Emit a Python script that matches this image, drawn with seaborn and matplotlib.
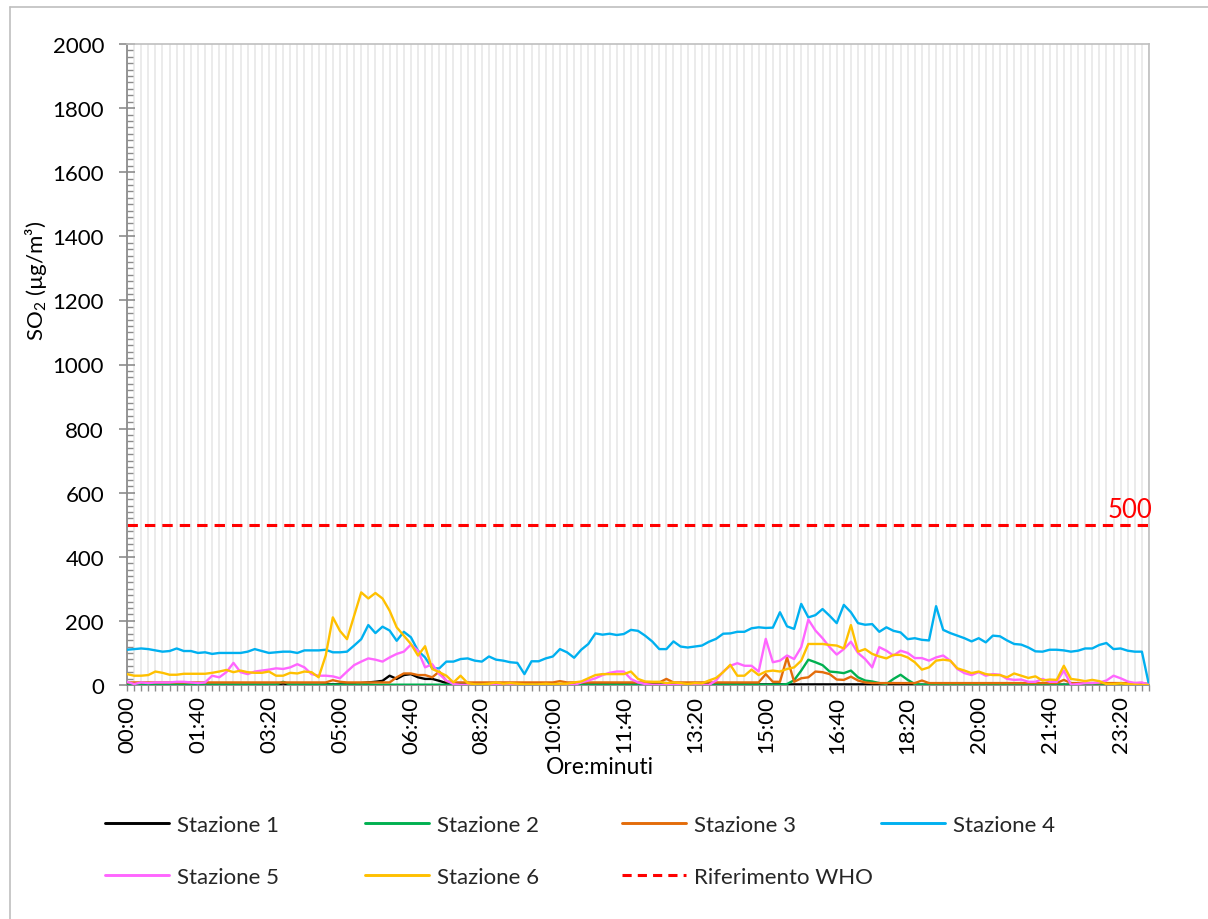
import numpy as np
import pandas as pd
import matplotlib
matplotlib.use("Agg")
import matplotlib.pyplot as plt
import seaborn as sns
from matplotlib.lines import Line2D
from matplotlib.ticker import MultipleLocator, FixedLocator

# ---------------- data ----------------
times = [f"{(m // 60):02d}:{(m % 60):02d}" for m in range(0, 24 * 60 + 1, 10)]  # 145 categories

stazione1 = [1] * 22 + [5] + [1] * 5 + [2, 2, 2, 2, 2, 6, 8, 10, 13, 29, 19, 31, 34, 24, 19, 19, 13, 6, 3] + [2] * 64 + [1] * 34

stazione2 = ([1] * 22 + [10] + [1] * 10 + [5] + [1] * 59 + [3, 15, 45, 79, 71, 62, 42,
             40, 37, 45, 24, 14, 11, 6, 3, 19, 32, 16, 3] + [1] * 33)

stazione3 = ([8] * 29 + [15, 10] + [8] * 7 + [24, 36, 36, 31, 31, 24, 42, 12] + [8] * 15 + [12]
             + [8] * 14 + [19] + [8] * 13 + [34, 10, 10, 86, 10, 21, 24, 42, 40, 34, 17, 16, 26, 14, 8]
             + [6] * 7 + [14] + [6] * 19 + [16] + [6] * 11 + [3])

stazione4 = [110, 112, 114, 112, 108, 104, 106, 114, 106, 106,
             100, 102, 97, 100, 100, 100, 100, 104, 112, 106,
             100, 102, 104, 104, 100, 108, 108, 108, 110, 102,
             102, 104, 123, 143, 187, 162, 182, 170, 138, 166,
             149, 107, 86, 52, 52, 73, 73, 81, 83, 76,
             73, 89, 79, 76, 71, 69, 34, 74, 74, 83,
             89, 112, 102, 85, 110, 128, 161, 157, 160, 156,
             159, 172, 169, 154, 136, 112, 112, 136, 120, 117,
             120, 123, 135, 144, 160, 161, 166, 166, 177, 180,
             178, 179, 227, 183, 175, 253, 211, 218, 237, 216,
             193, 250, 227, 193, 188, 190, 166, 180, 169, 164,
             143, 146, 141, 139, 246, 172, 162, 154, 146, 136,
             146, 133, 154, 152, 139, 128, 126, 117, 105, 104,
             110, 110, 108, 104, 107, 114, 114, 125, 131, 112,
             114, 107, 104, 104, 0]

stazione5 = [10, 3, 8, 6, 8, 8, 8, 10, 10, 8,
             6, 8, 29, 24, 40, 69, 40, 34, 42, 45,
             48, 52, 50, 55, 65, 55, 34, 29, 29, 27,
             21, 42, 62, 73, 83, 79, 73, 86, 97, 104,
             126, 107, 55, 65, 34, 14, 3, 0, 0, 0,
             0, 0, 0, 0, 0, 0, 0, 0, 0, 0,
             0, 0, 0, 0, 8, 14, 21, 31, 38, 42,
             42, 19, 8, 3, 0, 0, 0, 0, 0, 0,
             0, 0, 0, 14, 42, 60, 68, 60, 60, 42,
             144, 71, 76, 92, 81, 118, 204, 170, 146, 118,
             95, 112, 135, 100, 81, 55, 118, 107, 92, 107,
             100, 84, 84, 76, 86, 92, 76, 50, 37, 31,
             40, 29, 34, 32, 19, 16, 17, 10, 10, 19,
             10, 10, 45, 1, 3, 6, 6, 8, 14, 29,
             21, 11, 6, 8, 0]

stazione6 = [34, 29, 29, 31, 42, 38, 32, 32, 35, 35,
             35, 35, 38, 42, 47, 40, 45, 40, 38, 38,
             42, 29, 29, 38, 36, 42, 40, 24, 92, 211,
             169, 143, 216, 289, 270, 287, 270, 232, 180, 154,
             128, 92, 121, 50, 40, 29, 8, 29, 6, 2,
             2, 4, 8, 4, 6, 4, 2, 2, 2, 4,
             2, 4, 4, 8, 11, 21, 31, 34, 34, 34,
             34, 42, 19, 11, 10, 10, 6, 8, 6, 3,
             6, 5, 14, 22, 40, 63, 29, 29, 48, 31,
             42, 45, 42, 50, 55, 76, 128, 128, 128, 125,
             123, 114, 187, 104, 112, 97, 89, 83, 94, 94,
             86, 71, 48, 55, 76, 79, 76, 52, 45, 37,
             42, 34, 31, 31, 24, 36, 29, 22, 27, 14,
             17, 16, 60, 19, 16, 12, 16, 12, 3, 3,
             5, 3, 1, 0, 0]

who_ref = [500] * len(times)

series_names = ["Stazione 1", "Stazione 2", "Stazione 3", "Stazione 4", "Stazione 5", "Stazione 6"]
series_vals = [stazione1, stazione2, stazione3, stazione4, stazione5, stazione6]
colors = ["#000000", "#00B050", "#E36C0A", "#00B0F0", "#FF66FF", "#FFC000"]
who_name = "Riferimento WHO"

# ---------------- style ----------------
sns.set_theme(style="white")
plt.rcParams["font.family"] = ["Lato", "DejaVu Sans"]
plt.rcParams["mathtext.fontset"] = "custom"
plt.rcParams["mathtext.rm"] = "Lato"
plt.rcParams["mathtext.it"] = "Lato"

FS = 16
W, H = 1208, 920
fig = plt.figure(figsize=(W / 100, H / 100), dpi=100)
fig.patch.set_facecolor("white")
L, R, T, B = 127, 1149, 45, 686
ax = fig.add_axes([L / W, 1 - B / H, (R - L) / W, (B - T) / H])

x = np.arange(len(times))
df = pd.DataFrame({"idx": x})
for name, vals in zip(series_names, series_vals):
    df[name] = vals
df[who_name] = who_ref

for name, col in zip(series_names, colors):
    sns.lineplot(data=df, x="idx", y=name, color=col, lw=1.7, ax=ax, legend=False, zorder=3)
sns.lineplot(data=df, x="idx", y=who_name, color="#FF0000", lw=2.2, ax=ax, legend=False, zorder=2)
wl = ax.lines[-1]
wl.set_dashes([3.4, 2.3])

# legend proxies (slightly thicker, like the reference legend keys)
handles = [Line2D([], [], color=c, lw=2.1) for c in colors]
handles.append(Line2D([], [], color="#FF0000", lw=2.2, dashes=[3.0, 2.0]))

ax.set_xlim(0, len(times) - 1)
ax.set_ylim(0, 2000)

# vertical grid at every category
ax.xaxis.set_major_locator(FixedLocator(list(range(0, len(times), 10))))
ax.xaxis.set_minor_locator(FixedLocator([i for i in range(len(times)) if i % 10 != 0]))
ax.set_xticklabels([times[i] for i in range(0, len(times), 10)], rotation=90, fontsize=FS, color="#000000")
ax.grid(True, axis="x", which="both", color="#E9E9E9", lw=1.3, zorder=0)
ax.grid(False, axis="y")
ax.tick_params(axis="x", which="both", direction="out", length=4.5, width=1, color="#8C8C8C", pad=3)

ax.yaxis.set_major_locator(MultipleLocator(200))
ax.yaxis.set_minor_locator(MultipleLocator(20))
ax.tick_params(axis="y", which="major", direction="inout", length=11, width=1.2, color="#8C8C8C",
               labelsize=FS, pad=11, labelcolor="#000000")
ax.tick_params(axis="y", which="minor", direction="in", length=4, width=1, color="#8C8C8C")
ax.tick_params(left=True, bottom=True)
ax.yaxis.set_tick_params(which="minor", left=True)
ax.xaxis.set_tick_params(which="minor", bottom=True)

for side in ["left", "bottom"]:
    ax.spines[side].set_color("#8C8C8C")
    ax.spines[side].set_linewidth(1.3)
for side in ["top", "right"]:
    ax.spines[side].set_color("#BFBFBF")
    ax.spines[side].set_linewidth(1.2)
    ax.spines[side].set_visible(True)

ax.set_xlabel("Ore:minuti", fontsize=16.5, color="#000000")
ax.xaxis.label.set_va("center")
ax.xaxis.set_label_coords((600 - L) / (R - L), -(767 - B) / (B - T))
ax.set_ylabel("SO$_\\mathregular{2}$ (µg/m³)", fontsize=FS, color="#000000")
ax.yaxis.label.set_va("center")
ax.yaxis.set_label_coords((36 - L) / (R - L), (B - 281) / (B - T))

ax.text(len(times) - 1 + 0.5, 508, "500", color="#FF0000", fontsize=18.5, ha="right", va="bottom", zorder=4)

# legend: 4 equal columns, 2 rows
labels = series_names + [who_name]
cols_x = [105, 365, 622, 881]
col_items = [[0, 4], [1, 5], [2, 6], [3]]
for cx, items in zip(cols_x, col_items):
    fig.legend([handles[i] for i in items], [labels[i] for i in items],
               loc="upper left", bbox_to_anchor=(cx / W, 1 - 816 / H),
               frameon=False, fontsize=FS, handlelength=2.9, handletextpad=0.34,
               borderpad=0, borderaxespad=0, labelspacing=1.44)

# chart-area border (only top and left visible in the crop)
fig.add_artist(Line2D([10 / W, 10 / W], [0, 1 - 8 / H], transform=fig.transFigure, color="#BFBFBF", lw=1.2))
fig.add_artist(Line2D([10 / W, 1], [1 - 8 / H, 1 - 8 / H], transform=fig.transFigure, color="#BFBFBF", lw=1.2))

fig.savefig("out.png", dpi=100, facecolor="white")
